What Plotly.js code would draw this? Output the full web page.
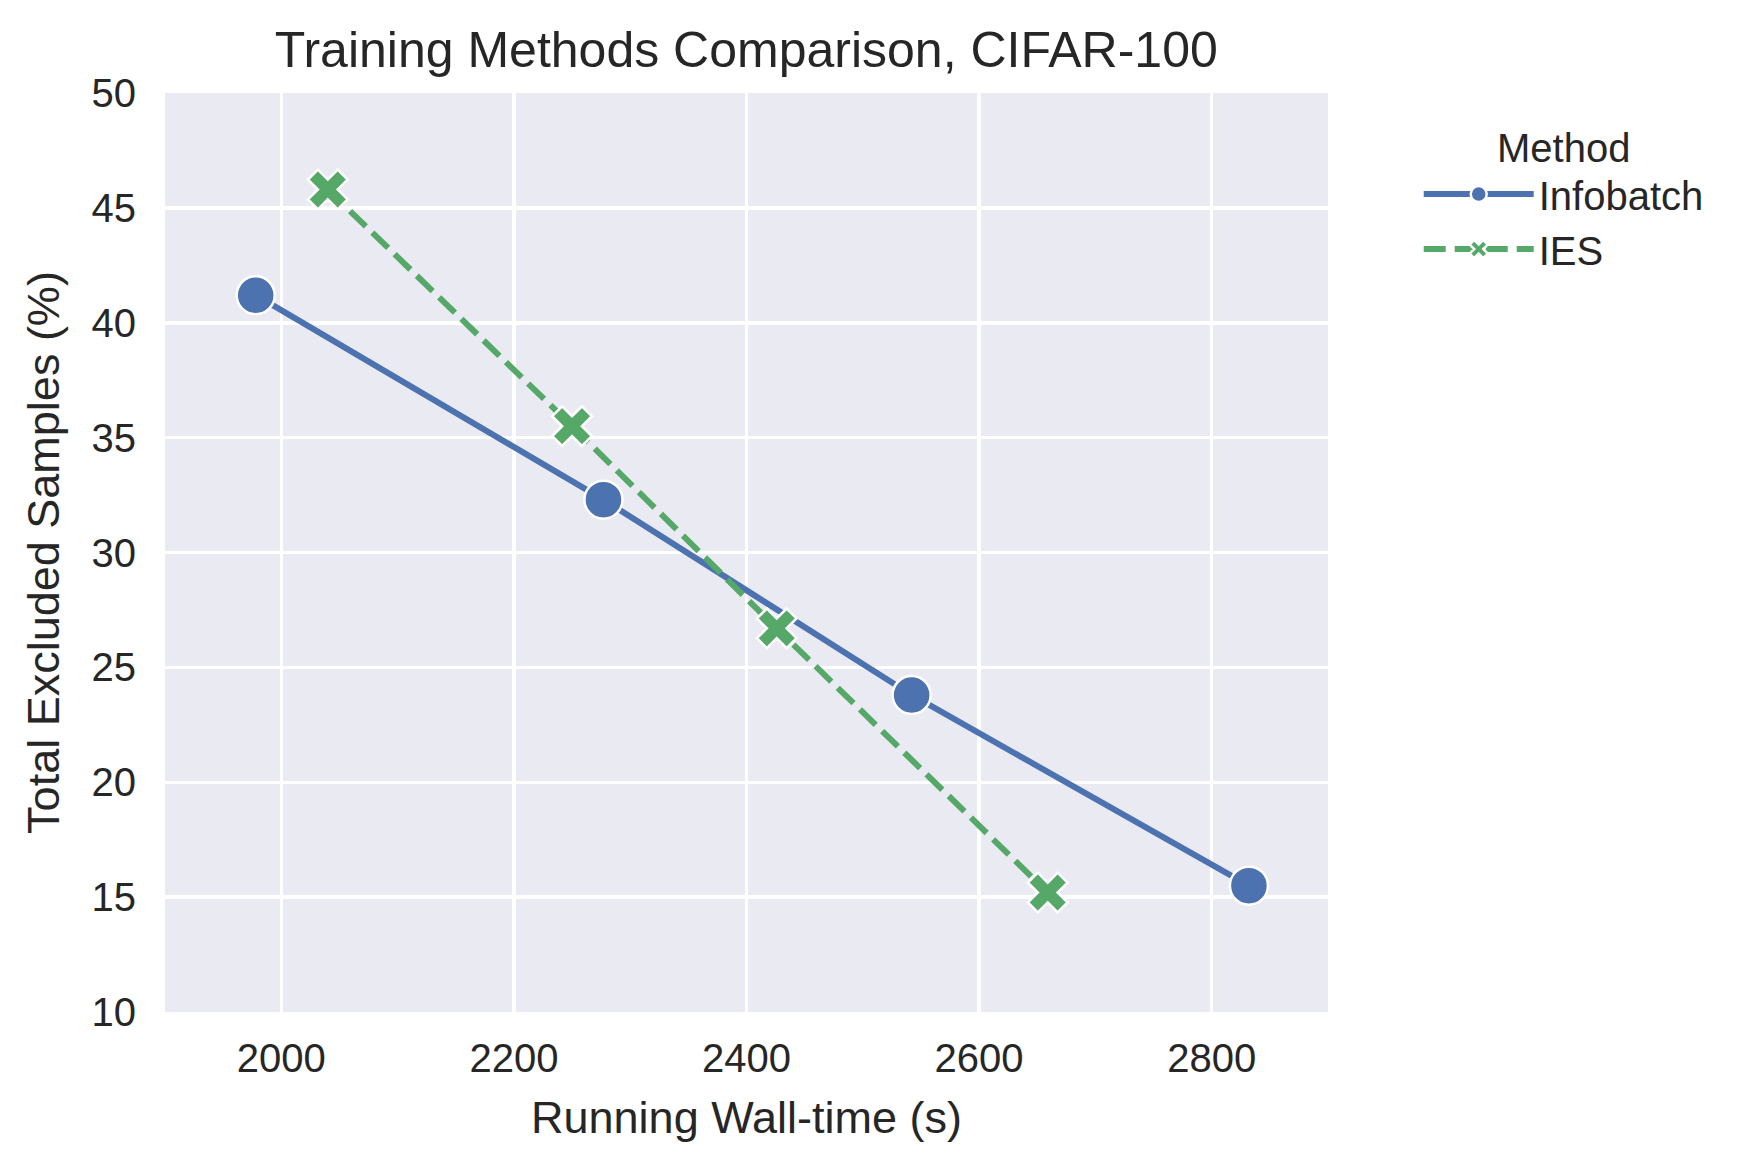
<!DOCTYPE html>
<html>
<head>
<meta charset="utf-8">
<script src="https://cdn.plot.ly/plotly-3.0.1.min.js"></script>
<style>
  html, body { margin: 0; padding: 0; background: #fff; }
</style>
</head>
<body>
<div id="myDiv" style="width:1758px;height:1170px;"></div>
<script>
// values
var methods = ["Infobatch", "IES"];
var infobatchTime = [1978, 2277, 2542, 2832];
var infobatchExcluded = [41.2, 32.3, 23.8, 15.5];
var iesTime = [2040, 2250, 2426, 2659];
var iesExcluded = [45.8, 35.5, 26.7, 15.2];

var xTicks = [2000, 2200, 2400, 2600, 2800];
var yTicks = [10, 15, 20, 25, 30, 35, 40, 45, 50];

var textColor = "#262626";
var fontFamily = "Liberation Sans, Arial, sans-serif";

var trace1 = {
  x: infobatchTime,
  y: infobatchExcluded,
  type: 'scatter',
  mode: 'lines+markers',
  name: methods[0],
  line: { color: '#4C72B0', width: 6 },
  marker: { symbol: 'circle', size: 38, color: '#4C72B0',
            line: { color: '#ffffff', width: 2.5 } }
};

var trace2 = {
  x: iesTime,
  y: iesExcluded,
  type: 'scatter',
  mode: 'lines+markers',
  name: methods[1],
  line: { color: '#55A868', width: 6, dash: '22px,9px' },
  marker: { symbol: 'x', size: 35, color: '#55A868',
            line: { color: '#ffffff', width: 2.5 } }
};

var layout = {
  width: 1758,
  height: 1170,
  paper_bgcolor: '#ffffff',
  plot_bgcolor: '#EAEAF2',
  font: { family: fontFamily, color: textColor, size: 40 },
  margin: { l: 165, r: 430, t: 93, b: 158, pad: 0 },
  title: {
    text: 'Training Methods Comparison, CIFAR-100',
    font: { size: 50, color: textColor },
    x: 0.4245, xanchor: 'center',
    yref: 'container', y: 0.958, yanchor: 'middle'
  },
  xaxis: {
    range: [1900, 2900],
    tickvals: xTicks,
    ticktext: xTicks.map(String),
    showgrid: true, gridcolor: '#ffffff', gridwidth: 3.5,
    zeroline: false, showline: false,
    ticks: 'outside', ticklen: 11, tickcolor: 'rgba(0,0,0,0)',
    tickfont: { size: 40 },
    title: { text: 'Running Wall-time (s)', font: { size: 45 }, standoff: 22 }
  },
  yaxis: {
    range: [10, 50],
    tickvals: yTicks,
    ticktext: yTicks.map(String),
    showgrid: true, gridcolor: '#ffffff', gridwidth: 3.5,
    zeroline: false, showline: false,
    ticks: 'outside', ticklen: 20, tickcolor: 'rgba(0,0,0,0)',
    tickfont: { size: 40 },
    title: { text: 'Total Excluded Samples (%)', font: { size: 45 }, standoff: 17 }
  },
  showlegend: true,
  legend: {
    x: 1.078, xanchor: 'left',
    y: 0.982, yanchor: 'top',
    bgcolor: 'rgba(0,0,0,0)',
    font: { size: 40 },
    itemwidth: 110,
    itemsizing: 'trace',
    title: { text: 'Method', side: 'top center', font: { size: 40 } }
  }
};

Plotly.newPlot('myDiv', [trace1, trace2], layout, { displayModeBar: false, staticPlot: true });
</script>
</body>
</html>
